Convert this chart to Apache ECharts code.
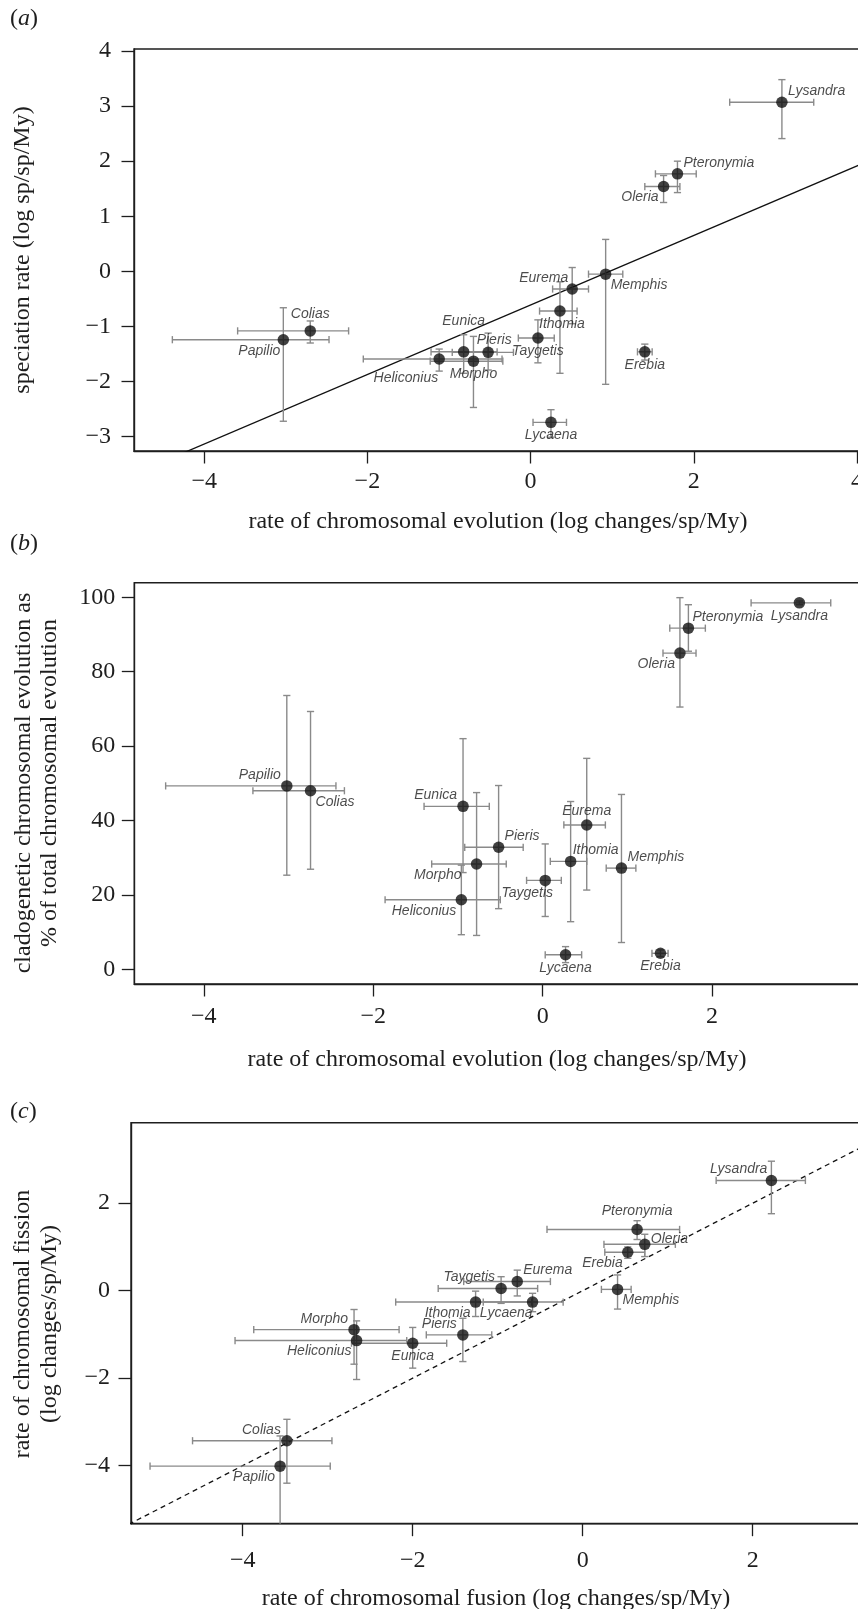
<!DOCTYPE html>
<html>
<head>
<meta charset="utf-8">
<script src="https://cdn.jsdelivr.net/npm/echarts@6/dist/echarts.min.js"></script>
<style>
html, body { margin: 0; padding: 0; background: #fff; }
#chart { width: 858px; height: 1609px; }
</style>
</head>
<body>
<div id="chart"></div>
<script>
var species = ["Lysandra", "Pteronymia", "Oleria", "Memphis", "Eurema", "Ithomia", "Taygetis",
  "Erebia", "Lycaena", "Pieris", "Eunica", "Morpho", "Heliconius", "Colias", "Papilio"];

// (a) speciation rate vs rate of chromosomal evolution
var aRate   = [3.08, 1.80, 1.63, 0.92, 0.51, 0.36, 0.09, 1.40, 0.25, -0.52, -0.82, -0.70, -1.12, -2.70, -3.03];
var aRateLo = [2.44, 1.53, 1.40, 0.71, 0.27, 0.11, -0.15, 1.31, 0.03, -0.96, -1.22, -1.23, -2.05, -3.59, -4.39];
var aRateHi = [3.47, 2.03, 1.83, 1.13, 0.71, 0.57, 0.29, 1.49, 0.44, -0.21, -0.41, -0.34, -0.35, -2.23, -2.47];
var aSpec   = [3.07, 1.77, 1.54, -0.05, -0.32, -0.72, -1.21, -1.46, -2.74, -1.47, -1.46, -1.63, -1.59, -1.08, -1.24];
var aSpecLo = [2.41, 1.43, 1.25, -2.05, -0.95, -1.85, -1.66, -1.61, -3.01, -1.79, -1.85, -2.47, -1.81, -1.30, -2.72];
var aSpecHi = [3.48, 2.00, 1.74, 0.58, 0.07, -0.19, -0.88, -1.32, -2.51, -1.12, -1.15, -1.18, -1.41, -0.90, -0.66];
var regIntercept = -0.61;
var regSlope = 0.631;

// (b) cladogenetic % vs rate of chromosomal evolution
var bRate    = [3.03, 1.72, 1.62, 0.93, 0.52, 0.33, 0.03, 1.39, 0.27, -0.52, -0.94, -0.78, -0.96, -2.74, -3.02];
var bRateLo  = [2.46, 1.50, 1.42, 0.75, 0.25, 0.09, -0.19, 1.29, 0.03, -0.92, -1.40, -1.31, -1.86, -3.42, -4.45];
var bRateHi  = [3.40, 1.92, 1.81, 1.10, 0.74, 0.52, 0.22, 1.48, 0.46, -0.23, -0.63, -0.43, -0.50, -2.34, -2.44];
var bClado   = [98.5, 91.7, 85.0, 27.2, 38.8, 29.0, 23.9, 4.3, 3.9, 32.8, 43.8, 28.3, 18.7, 48.0, 49.3];
var bCladoLo = [98.0, 85.5, 70.5, 7.2, 21.3, 12.8, 14.2, 3.4, 1.8, 16.3, 26.0, 9.1, 9.3, 26.9, 25.3];
var bCladoHi = [99.0, 98.0, 99.9, 47.0, 56.7, 45.1, 33.7, 5.2, 6.1, 49.4, 62.0, 47.5, 28.0, 69.3, 73.6];

// (c) fission vs fusion
var cFusion    = [2.22, 0.64, 0.73, 0.41, -0.77, -1.26, -0.96, 0.53, -0.59, -1.41, -2.00, -2.69, -2.66, -3.48, -3.56];
var cFusionLo  = [1.57, -0.42, 0.25, 0.22, -1.40, -2.20, -1.70, 0.26, -1.17, -1.84, -2.72, -3.87, -4.09, -4.59, -5.09];
var cFusionHi  = [2.62, 1.14, 1.09, 0.57, -0.38, -0.60, -0.53, 0.73, -0.23, -1.07, -1.60, -2.16, -2.07, -2.95, -2.97];
var cFission   = [2.52, 1.40, 1.06, 0.03, 0.21, -0.26, 0.05, 0.88, -0.26, -1.01, -1.20, -0.89, -1.14, -3.43, -4.01];
var cFissionLo = [1.76, 1.17, 0.78, -0.42, -0.12, -0.59, -0.29, 0.74, -0.48, -1.62, -1.77, -1.68, -2.03, -4.40, -5.60];
var cFissionHi = [2.96, 1.60, 1.29, 0.36, 0.47, -0.01, 0.32, 1.00, -0.06, -0.63, -0.84, -0.43, -0.69, -2.94, -3.32];

var xTicksA = [-4, -2, 0, 2, 4];
var yTicksA = [-3, -2, -1, 0, 1, 2, 3, 4];
var xTicksB = [-4, -2, 0, 2];
var yTicksB = [0, 20, 40, 60, 80, 100];
var xTicksC = [-4, -2, 0, 2];
var yTicksC = [-4, -2, 0, 2];

// label placement per panel: [code, dx, dy]
var labA = {
  Lysandra: ['ur', 0, 0], Pteronymia: ['ur', 0, 0], Oleria: ['ll', 0, 0], Memphis: ['lr', 0, 0],
  Eurema: ['ul', 2, 0], Ithomia: ['b', 2, 0], Taygetis: ['b', 0, 0], Erebia: ['b', 0, 0],
  Lycaena: ['b', 0, 0], Pieris: ['a', 6, 2], Eunica: ['a', 0, -17], Morpho: ['b', 0, 0],
  Heliconius: ['ll', 4, 8], Colias: ['a', 0, -3], Papilio: ['ll', 2, 0]
};
var labB = {
  Lysandra: ['b', 0, 0], Pteronymia: ['ur', -2, 0], Oleria: ['ll', 0, 0], Memphis: ['ur', 0, 0],
  Eurema: ['a', 0, 0], Ithomia: ['ur', -4, 0], Taygetis: ['b', -18, 0], Erebia: ['b', 0, 0],
  Lycaena: ['b', 0, 0], Pieris: ['ur', 0, 0], Eunica: ['ul', 0, 0], Morpho: ['ll', -10, 0],
  Heliconius: ['ll', 0, 0], Colias: ['lr', 0, 0], Papilio: ['ul', 0, 0]
};
var labC = {
  Lysandra: ['ul', 2, 0], Pteronymia: ['a', 0, -4], Oleria: ['ur', 0, 6], Memphis: ['lr', 0, 0],
  Eurema: ['ur', 0, 0], Ithomia: ['ll', 0, 0], Taygetis: ['ul', 0, 0], Erebia: ['ll', 0, 0],
  Lycaena: ['ll', 5, 0], Pieris: ['ul', 0, 0], Eunica: ['b', 0, 0], Morpho: ['ul', 0, 0],
  Heliconius: ['ll', 0, 0], Colias: ['ul', 0, 0], Papilio: ['ll', 0, 0]
};

var ink = '#1e1e1e';
var barColor = '#8a8a8a';
var serif = '"Liberation Serif", "DejaVu Serif", serif';
var sans = '"Liberation Sans", Arial, sans-serif';

function minusFmt(v) {
  return v < 0 ? '\u2212' + Math.abs(v) : String(v);
}

function placeLabel(p) {
  var code = p[0], a, va, off;
  if (code === 'ur') { a = 'left'; va = 'bottom'; off = [6, -4]; }
  else if (code === 'ul') { a = 'right'; va = 'bottom'; off = [-6, -4]; }
  else if (code === 'lr') { a = 'left'; va = 'top'; off = [5, 4]; }
  else if (code === 'll') { a = 'right'; va = 'top'; off = [-5, 4]; }
  else if (code === 'a') { a = 'center'; va = 'bottom'; off = [0, -7]; }
  else { a = 'center'; va = 'top'; off = [0, 6]; }
  return { show: true, position: 'inside', align: a, verticalAlign: va,
    offset: [off[0] + p[1], off[1] + p[2]] };
}

function pointData(xs, ys, lab) {
  return species.map(function (n, i) {
    return { name: n, value: [xs[i], ys[i]], label: placeLabel(lab[n]) };
  });
}

function barData(xs, xlo, xhi, ys, ylo, yhi) {
  return species.map(function (n, i) {
    return [xs[i], ys[i], xlo[i], xhi[i], ylo[i], yhi[i]];
  });
}

// error bars with caps, clipped to the plot box
function errorBars(params, api) {
  var cs = params.coordSys;
  var x0 = cs.x, x1 = cs.x + cs.width, y0 = cs.y, y1 = cs.y + cs.height;
  var c = api.coord([api.value(0), api.value(1)]);
  var l = api.coord([api.value(2), api.value(1)]);
  var r = api.coord([api.value(3), api.value(1)]);
  var b = api.coord([api.value(0), api.value(4)]);
  var t = api.coord([api.value(0), api.value(5)]);
  var cap = 3.6;
  var st = { stroke: barColor, lineWidth: 1.4 };
  var kids = [];
  function seg(xa, ya, xb, yb) {
    kids.push({ type: 'line', shape: { x1: xa, y1: ya, x2: xb, y2: yb }, style: st });
  }
  seg(Math.max(l[0], x0), c[1], Math.min(r[0], x1), c[1]);
  if (l[0] >= x0) seg(l[0], c[1] - cap, l[0], c[1] + cap);
  if (r[0] <= x1) seg(r[0], c[1] - cap, r[0], c[1] + cap);
  seg(c[0], Math.min(b[1], y1), c[0], Math.max(t[1], y0));
  if (b[1] <= y1) seg(c[0] - cap, b[1], c[0] + cap, b[1]);
  if (t[1] >= y0) seg(c[0] - cap, t[1], c[0] + cap, t[1]);
  return { type: 'group', children: kids };
}

function makeAxis(idx, min, max, ticks, margin) {
  return {
    gridIndex: idx, type: 'value', min: min, max: max,
    axisLine: { show: true, onZero: false, lineStyle: { color: ink, width: 1.4 } },
    splitLine: { show: false },
    axisTick: { show: true, inside: false, length: 12.5, customValues: ticks,
      lineStyle: { color: ink, width: 1.3 } },
    axisLabel: { customValues: ticks, margin: margin, formatter: minusFmt,
      fontFamily: serif, fontSize: 24, color: ink }
  };
}

function scatterSeries(idx, data) {
  return {
    type: 'scatter', xAxisIndex: idx, yAxisIndex: idx, z: 4,
    symbol: 'circle', symbolSize: 11.5,
    itemStyle: { color: '#111' },
    label: { show: true, formatter: '{b}', color: ink, fontFamily: sans, fontStyle: 'italic',
      fontSize: 14, lineHeight: 14 },
    data: data
  };
}
function barSeries(idx, data) {
  return {
    type: 'custom', xAxisIndex: idx, yAxisIndex: idx, z: 2,
    renderItem: errorBars, data: data
  };
}

var gridA = { left: 134, top: 49, width: 739.3, height: 402 };
var gridB = { left: 134.3, top: 582.7, width: 738.8, height: 401.3 };
var gridC = { left: 131, top: 1122.7, width: 740.7, height: 401 };
[gridA, gridB, gridC].forEach(function (g) {
  g.show = true; g.borderColor = ink; g.borderWidth = 1.4; g.backgroundColor = 'transparent';
  g.containLabel = false; g.outerBoundsMode = 'none';
});

var xRangeA = [-4.86, 4.2], yRangeA = [-3.26, 4.036];
var xRangeB = [-4.82, 3.9], yRangeB = [-3.95, 103.92];
var xRangeC = [-5.314, 3.4], yRangeC = [-5.326, 3.84];

function titleText(x, y, txt, rot) {
  return { type: 'text', x: x, y: y, rotation: rot || 0,
    style: { text: txt, font: '24px ' + serif, fill: ink, align: 'center', verticalAlign: 'middle' } };
}
function panelTag(y, letter) {
  return { type: 'text', x: 10, y: y,
    style: { text: '{n|(}{i|' + letter + '}{n|)}', align: 'left', verticalAlign: 'middle', fill: ink,
      rich: { n: { fontFamily: serif, fontSize: 24, fill: ink },
              i: { fontFamily: serif, fontSize: 24, fontStyle: 'italic', fill: ink } } } };
}

var myChart = echarts.init(document.getElementById('chart'), null, { renderer: 'canvas' });
var option = {
  animation: false,
  backgroundColor: '#fff',
  grid: [gridA, gridB, gridC],
  xAxis: [makeAxis(0, xRangeA[0], xRangeA[1], xTicksA, 19),
          makeAxis(1, xRangeB[0], xRangeB[1], xTicksB, 21),
          makeAxis(2, xRangeC[0], xRangeC[1], xTicksC, 25)],
  yAxis: [makeAxis(0, yRangeA[0], yRangeA[1], yTicksA, 23),
          makeAxis(1, yRangeB[0], yRangeB[1], yTicksB, 19),
          makeAxis(2, yRangeC[0], yRangeC[1], yTicksC, 21)],
  graphic: [
    panelTag(19, 'a'), panelTag(544, 'b'), panelTag(1112, 'c'),
    titleText(498, 522, 'rate of chromosomal evolution (log changes/sp/My)'),
    titleText(497, 1060, 'rate of chromosomal evolution (log changes/sp/My)'),
    titleText(496, 1599, 'rate of chromosomal fusion (log changes/sp/My)'),
    titleText(23, 250, 'speciation rate (log sp/sp/My)', Math.PI / 2),
    titleText(24, 783, 'cladogenetic chromosomal evolution as', Math.PI / 2),
    titleText(50, 783, '% of total chromosomal evolution', Math.PI / 2),
    titleText(23, 1324, 'rate of chromosomal fission', Math.PI / 2),
    titleText(50, 1324, '(log changes/sp/My)', Math.PI / 2)
  ],
  series: [
    {
      type: 'line', xAxisIndex: 0, yAxisIndex: 0, z: 1, symbol: 'none', clip: true,
      lineStyle: { color: '#111', width: 1.3 },
      data: [[xRangeA[0], regIntercept + regSlope * xRangeA[0]], [xRangeA[1], regIntercept + regSlope * xRangeA[1]]]
    },
    barSeries(0, barData(aRate, aRateLo, aRateHi, aSpec, aSpecLo, aSpecHi)),
    scatterSeries(0, pointData(aRate, aSpec, labA)),
    barSeries(1, barData(bRate, bRateLo, bRateHi, bClado, bCladoLo, bCladoHi)),
    scatterSeries(1, pointData(bRate, bClado, labB)),
    {
      type: 'line', xAxisIndex: 2, yAxisIndex: 2, z: 1, symbol: 'none', clip: true,
      lineStyle: { color: '#111', width: 1.3, type: [5, 4] },
      data: [[-6, -6], [4, 4]]
    },
    barSeries(2, barData(cFusion, cFusionLo, cFusionHi, cFission, cFissionLo, cFissionHi)),
    scatterSeries(2, pointData(cFusion, cFission, labC))
  ]
};
myChart.setOption(option);
window.onresize = function () { myChart.resize(); };
</script>
</body>
</html>
